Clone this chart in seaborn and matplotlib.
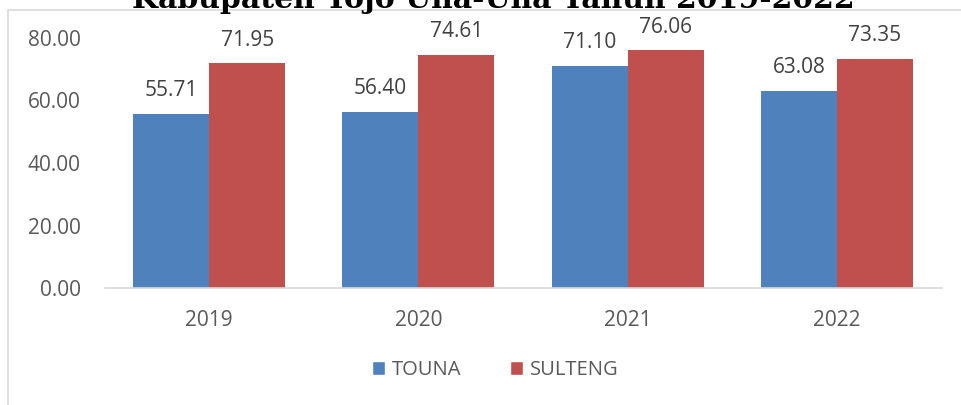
import matplotlib
matplotlib.use('Agg')
import matplotlib.pyplot as plt
import pandas as pd
import seaborn as sns
from matplotlib.patches import Rectangle, Patch

# data
tahun = ['2019', '2020', '2021', '2022']
touna = [55.71, 56.40, 71.10, 63.08]
sulteng = [71.95, 74.61, 76.06, 73.35]
wilayah = ['TOUNA', 'SULTENG']
judul = 'Kabupaten Tojo Una-Una Tahun 2019-2022'

df = pd.DataFrame({
    'Tahun': tahun * 2,
    'Wilayah': [wilayah[0]] * 4 + [wilayah[1]] * 4,
    'Nilai': touna + sulteng,
})

sns.set_style('white')
plt.rcParams['font.family'] = ['Open Sans', 'DejaVu Sans']

fig = plt.figure(figsize=(9.61, 4.05), dpi=100)
ax = fig.add_axes([104.5 / 961, 117 / 405, 837 / 961, 250 / 405])

sns.barplot(data=df, x='Tahun', y='Nilai', hue='Wilayah',
            palette=['#4F81BD', '#C0504D'], width=0.727, saturation=1,
            edgecolor='none', linewidth=0, ax=ax, legend=False)

for cont in ax.containers:
    ax.bar_label(cont, fmt='%.2f', padding=9, fontsize=15, color='#404040')

ax.set_ylim(0, 80)
ax.set_xlim(-0.5, 3.5)
ax.set_yticks([0, 20, 40, 60, 80])
ax.set_yticklabels([f'{v:.2f}' for v in [0, 20, 40, 60, 80]])
ax.tick_params(axis='both', labelsize=15, colors='#595959', length=0)
ax.tick_params(axis='x', pad=16)
ax.tick_params(axis='y', pad=17)
ax.set_xlabel('')
ax.set_ylabel('')
for s in ['top', 'right', 'left']:
    ax.spines[s].set_visible(False)
ax.spines['bottom'].set_color('#D9D9D9')
ax.spines['bottom'].set_linewidth(1.2)

# bingkai chart
fig.patches.append(Rectangle((8 / 961, -0.1), 1.1, (395 / 405) + 0.1,
                             transform=fig.transFigure, fill=False,
                             edgecolor='#D9D9D9', linewidth=1.2))

# judul terpotong di atas seperti aslinya
fig.text(0.513, 397 / 405, judul, ha='center', va='baseline',
         fontsize=21.5, fontweight='bold', family='DejaVu Serif', color='black')

handles = [Patch(facecolor='#4F81BD'), Patch(facecolor='#C0504D')]
fig.legend(handles, wilayah, loc='center', bbox_to_anchor=(495 / 961, 35 / 405),
           ncol=2, frameon=False, fontsize=14.5, handlelength=0.65, handleheight=0.65,
           handletextpad=0.35, columnspacing=2.4, labelcolor='#595959')

fig.savefig('out.png', dpi=100)
